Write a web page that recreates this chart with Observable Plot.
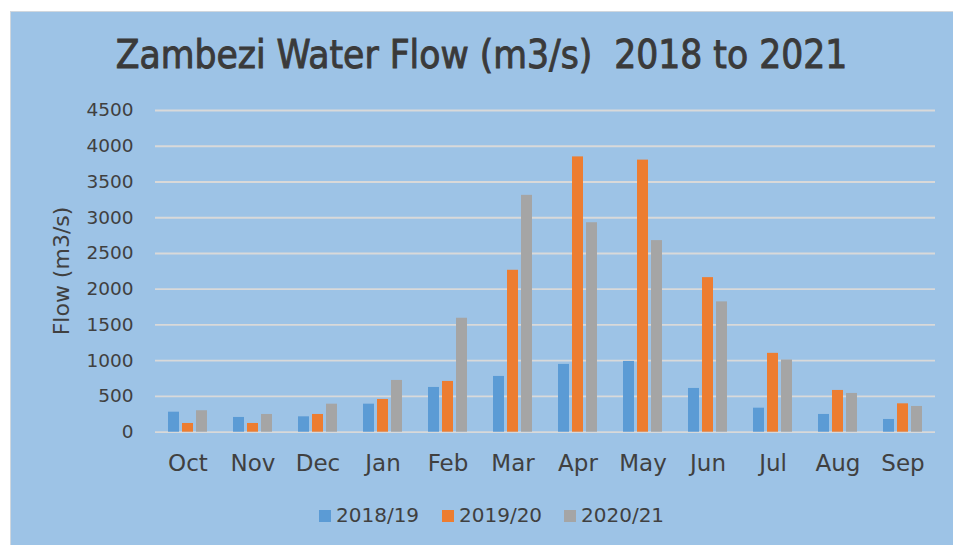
<!DOCTYPE html>
<html>
<head>
<meta charset="utf-8">
<script src="https://cdn.jsdelivr.net/npm/d3@7"></script>
<script src="https://cdn.jsdelivr.net/npm/@observablehq/plot@0.6"></script>
<style>
  html, body { margin: 0; padding: 0; background: #ffffff; width: 953px; height: 545px; overflow: hidden; }
  #panel { position: absolute; left: 10px; top: 11px; width: 943px; height: 534px; background: #9DC3E6; border-top: 1px solid #d0d7de; border-left: 1px solid #d0d7de; box-sizing: border-box; }
  #title { position: absolute; left: 10px; width: 943px; top: 36px; text-align: center; font-family: "DejaVu Sans Condensed", "DejaVu Sans", sans-serif; font-size: 38.5px; line-height: 38px; color: #3a3a3a; font-weight: normal; -webkit-text-stroke: 0.9px #3a3a3a; }
  #ylabel { position: absolute; left: 62px; top: 271px; transform: translate(-50%, -50%) rotate(-90deg); font-family: "DejaVu Sans", sans-serif; font-size: 22px; line-height: 22px; color: #404040; white-space: nowrap; }
  #chart { position: absolute; left: 10px; top: 90px; }
  #legend { position: absolute; top: 505px; left: 0; width: 953px; height: 20px; font-family: "DejaVu Sans", sans-serif; font-size: 20px; line-height: 20px; color: #404040; }
  .item { position: absolute; top: 0; white-space: nowrap; }
  .sw { display: inline-block; width: 12px; height: 12px; margin-right: 5px; vertical-align: 0px; }
</style>
</head>
<body>
<div id="panel"></div>
<div id="title">Zambezi Water Flow (m3/s)&nbsp;&nbsp;2018 to 2021</div>
<div id="ylabel">Flow (m3/s)</div>
<div id="chart"></div>
<div id="legend"></div>
<script>
const months = ["Oct","Nov","Dec","Jan","Feb","Mar","Apr","May","Jun","Jul","Aug","Sep"];
const seriesNames = ["2018/19","2019/20","2020/21"];
const flow1819 = [280, 206, 215, 392, 626, 780, 948, 990, 612, 336, 248, 178];
const flow1920 = [122, 122, 248, 458, 710, 2265, 3851, 3806, 2162, 1103, 584, 397];
const flow2021 = [300, 248, 392, 724, 1594, 3313, 2930, 2680, 1823, 1010, 542, 360];
const seriesColors = ["#5B9BD5", "#ED7D31", "#A5A5A5"];
const yTicks = [0, 500, 1000, 1500, 2000, 2500, 3000, 3500, 4000, 4500];

const allSeries = [flow1819, flow1920, flow2021];
const data = [];
months.forEach((m, i) => {
  seriesNames.forEach((s, j) => {
    data.push({month: m, series: s, value: allSeries[j][i]});
  });
});

const chart = Plot.plot({
  width: 943,
  height: 400,
  marginLeft: 145,
  marginRight: 18,
  marginTop: 20,
  marginBottom: 58.3,
  style: {background: "transparent", fontFamily: "DejaVu Sans, sans-serif", fontSize: "18px", color: "#404040"},
  fx: {domain: months, padding: 0, label: null},
  x: {domain: seriesNames, axis: null, paddingInner: 0.2, paddingOuter: 0.855},
  y: {domain: [0, 4500], label: null},
  color: {domain: seriesNames, range: seriesColors},
  marks: [
    Plot.ruleY(yTicks, {stroke: "#D9D9D9", strokeWidth: 1.8}),
    Plot.barY(data, {fx: "month", x: "series", y: "value", fill: "series"}),
    Plot.axisY({ticks: yTicks, tickFormat: "d", tickSize: 0, tickPadding: 22, label: null, fontSize: 18.5}),
    Plot.axisFx({anchor: "bottom", tickSize: 0, tickPadding: 22, label: null, fontSize: 23})
  ]
});
document.getElementById("chart").appendChild(chart);

const legend = document.getElementById("legend");
const legendX = [319, 442, 564];
seriesNames.forEach((s, j) => {
  const it = document.createElement("div");
  it.className = "item";
  it.style.left = legendX[j] + "px";
  const sw = document.createElement("span");
  sw.className = "sw";
  sw.style.background = seriesColors[j];
  it.appendChild(sw);
  it.appendChild(document.createTextNode(s));
  legend.appendChild(it);
});
</script>
</body>
</html>
